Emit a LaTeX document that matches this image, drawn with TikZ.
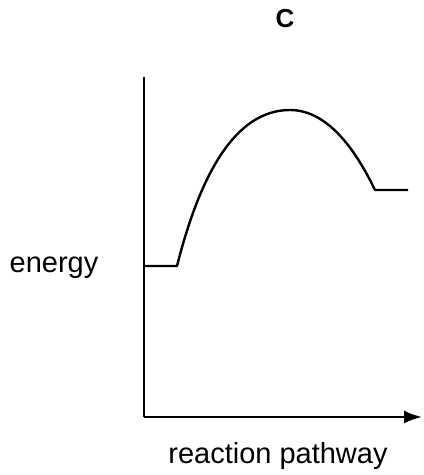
\documentclass[tikz,border=0pt]{standalone}
\usepackage{fontspec}
\setmainfont{Liberation Sans}[BoldFont={Liberation Sans Bold}]
\usetikzlibrary{arrows.meta}
\tikzset{
  axis/.style={line width=2.4pt},
  curvestyle/.style={line width=2.4pt, line join=round},
  lbl/.style={font=\fontsize{29}{32}\selectfont, anchor=base, inner sep=0pt},
  ttl/.style={font=\fontsize{26}{30}\selectfont\bfseries, anchor=base, inner sep=0pt}
}
\begin{document}
\begin{tikzpicture}[x=1pt,y=1pt]
\useasboundingbox (0,0) rectangle (424,475);
\coordinate (top) at (144,398);
\coordinate (origin) at (144,58);
\coordinate (xend) at (422,58);
\coordinate (r0) at (144,209);
\coordinate (r1) at (177,209);
\coordinate (peak) at (290,365);
\coordinate (p0) at (375,285);
\coordinate (p1) at (408,285);
\draw[axis] (top) -- (origin);
\draw[axis,-{Latex[length=18pt,width=13pt]}] (origin) -- (xend);
\draw[curvestyle] (r0) -- (r1) .. controls (200,300) and (235,365) .. (peak)
  .. controls (330,365) and (358,320) .. (p0) -- (p1);
\node[ttl] (title) at (285,447) {C};
\node[lbl] (ylab) at (54,202) {energy};
\node[lbl] (xlab) at (278,12) {reaction pathway};
\end{tikzpicture}
\end{document}
